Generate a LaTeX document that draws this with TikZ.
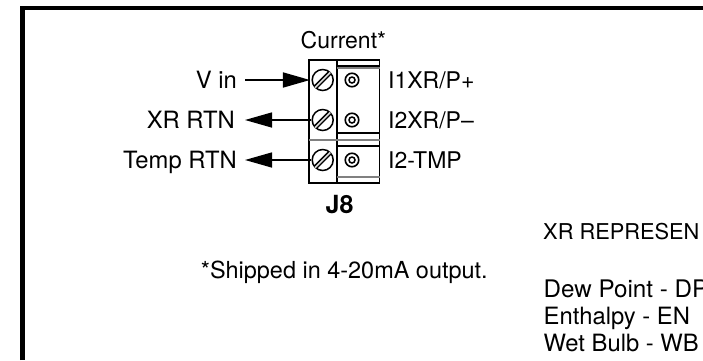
\documentclass[tikz,border=0pt]{standalone}
\usepackage{fontspec}
\setmainfont{TeX Gyre Heros}
\usetikzlibrary{arrows.meta}
\begin{document}
\begin{tikzpicture}[x=1pt,y=-1pt,
  lbl/.style={inner sep=0pt,font=\fontsize{23}{28}\selectfont,text=black,text height=17pt,text depth=0pt},
  wide/.style={font=\fontsize{23.8}{28}\selectfont},
  screw/.style={circle,draw,line width=1.5pt,minimum size=21pt,inner sep=0pt},
  pin/.style={circle,draw,line width=1.6pt,minimum size=13.5pt,inner sep=0pt},
  pinin/.style={circle,draw,line width=1.5pt,minimum size=6pt,inner sep=0pt},
  wire/.style={line width=1.5pt,-{Triangle[length=27pt,width=15pt]}},
  body/.style={line width=1.3pt},
  shade/.style={line width=1.2pt,draw=gray},
  frame/.style={line width=4.4pt,line cap=butt}]
\useasboundingbox (0,0) rectangle (703,360);
\clip (0,0) rectangle (703,360);
\draw[frame] (22.5,360) -- (22.5,8) -- (703,8);
% connector body
\draw[body] (309,183) -- (309,60) -- (379.5,60) -- (379.5,183) -- cycle;
\draw[body] (337,60) -- (337,183);
\draw[body] (337,66) -- (379.5,66);
\draw[shade] (337,68) -- (379.5,68);
\draw[body] (337,133) -- (379.5,133);
\draw[shade] (309,140) -- (379.5,140);
\draw[body] (337,146) -- (379.5,146);
\draw[shade] (337,177) -- (379.5,177);
% screws and pins
\foreach \n/\y in {a/80,b/120,c/160}{
  \node[screw] (s\n) at (322.7,\y) {};
  \draw[line width=4.6pt,shorten >=1pt,shorten <=1pt] (s\n.225) -- (s\n.45);
  \draw[line width=1.6pt,draw=white!85!black,shorten >=.5pt,shorten <=.5pt] (s\n.225) -- (s\n.45);
  \node[pin] (p\n) at (352,\y) {};
  \node[pinin] at (p\n) {};
}
% labels
\node[lbl,anchor=west] (cur) at (300.5,39.5) {Current*};
\node[lbl,anchor=east,wide] (vin) at (237,80) {V in};
\node[lbl,anchor=east,wide] (xr) at (235,120) {XR RTN};
\node[lbl,anchor=east,wide] (tmp) at (237,160) {Temp RTN};
\node[lbl,anchor=west] (l1) at (388,80) {I1XR/P+};
\node[lbl,anchor=west] (l2) at (388,120) {I2XR/P–};
\node[lbl,anchor=west] (l3) at (388,160) {I2-TMP};
\node[lbl,font=\fontsize{25}{28}\selectfont\bfseries] (j8) at (339.5,205) {J8};
\node[lbl,anchor=west,font=\fontsize{23.45}{28}\selectfont] (ship) at (200.7,269.5) {*Shipped in 4-20mA output.};
\node[lbl,anchor=west,font=\fontsize{21.8}{28}\selectfont] (rep) at (543,231) {XR REPRESEN};
\node[lbl,anchor=west,font=\fontsize{24.2}{28}\selectfont] (dp) at (543.5,289) {Dew Point - DP};
\node[lbl,anchor=west,wide] (en) at (543.5,316) {Enthalpy - EN};
\node[lbl,anchor=west,wide] (wb) at (543.5,343) {Wet Bulb - WB};
% wires
\draw[wire,shorten <=8pt,shorten >=1.5pt,line width=1.7pt] (vin.east) -- (sa.west);
\draw[wire,shorten >=10pt] (sb.west) -- (xr.east);
\draw[wire,shorten >=8pt] (sc.west) -- (tmp.east);
\end{tikzpicture}
\end{document}
